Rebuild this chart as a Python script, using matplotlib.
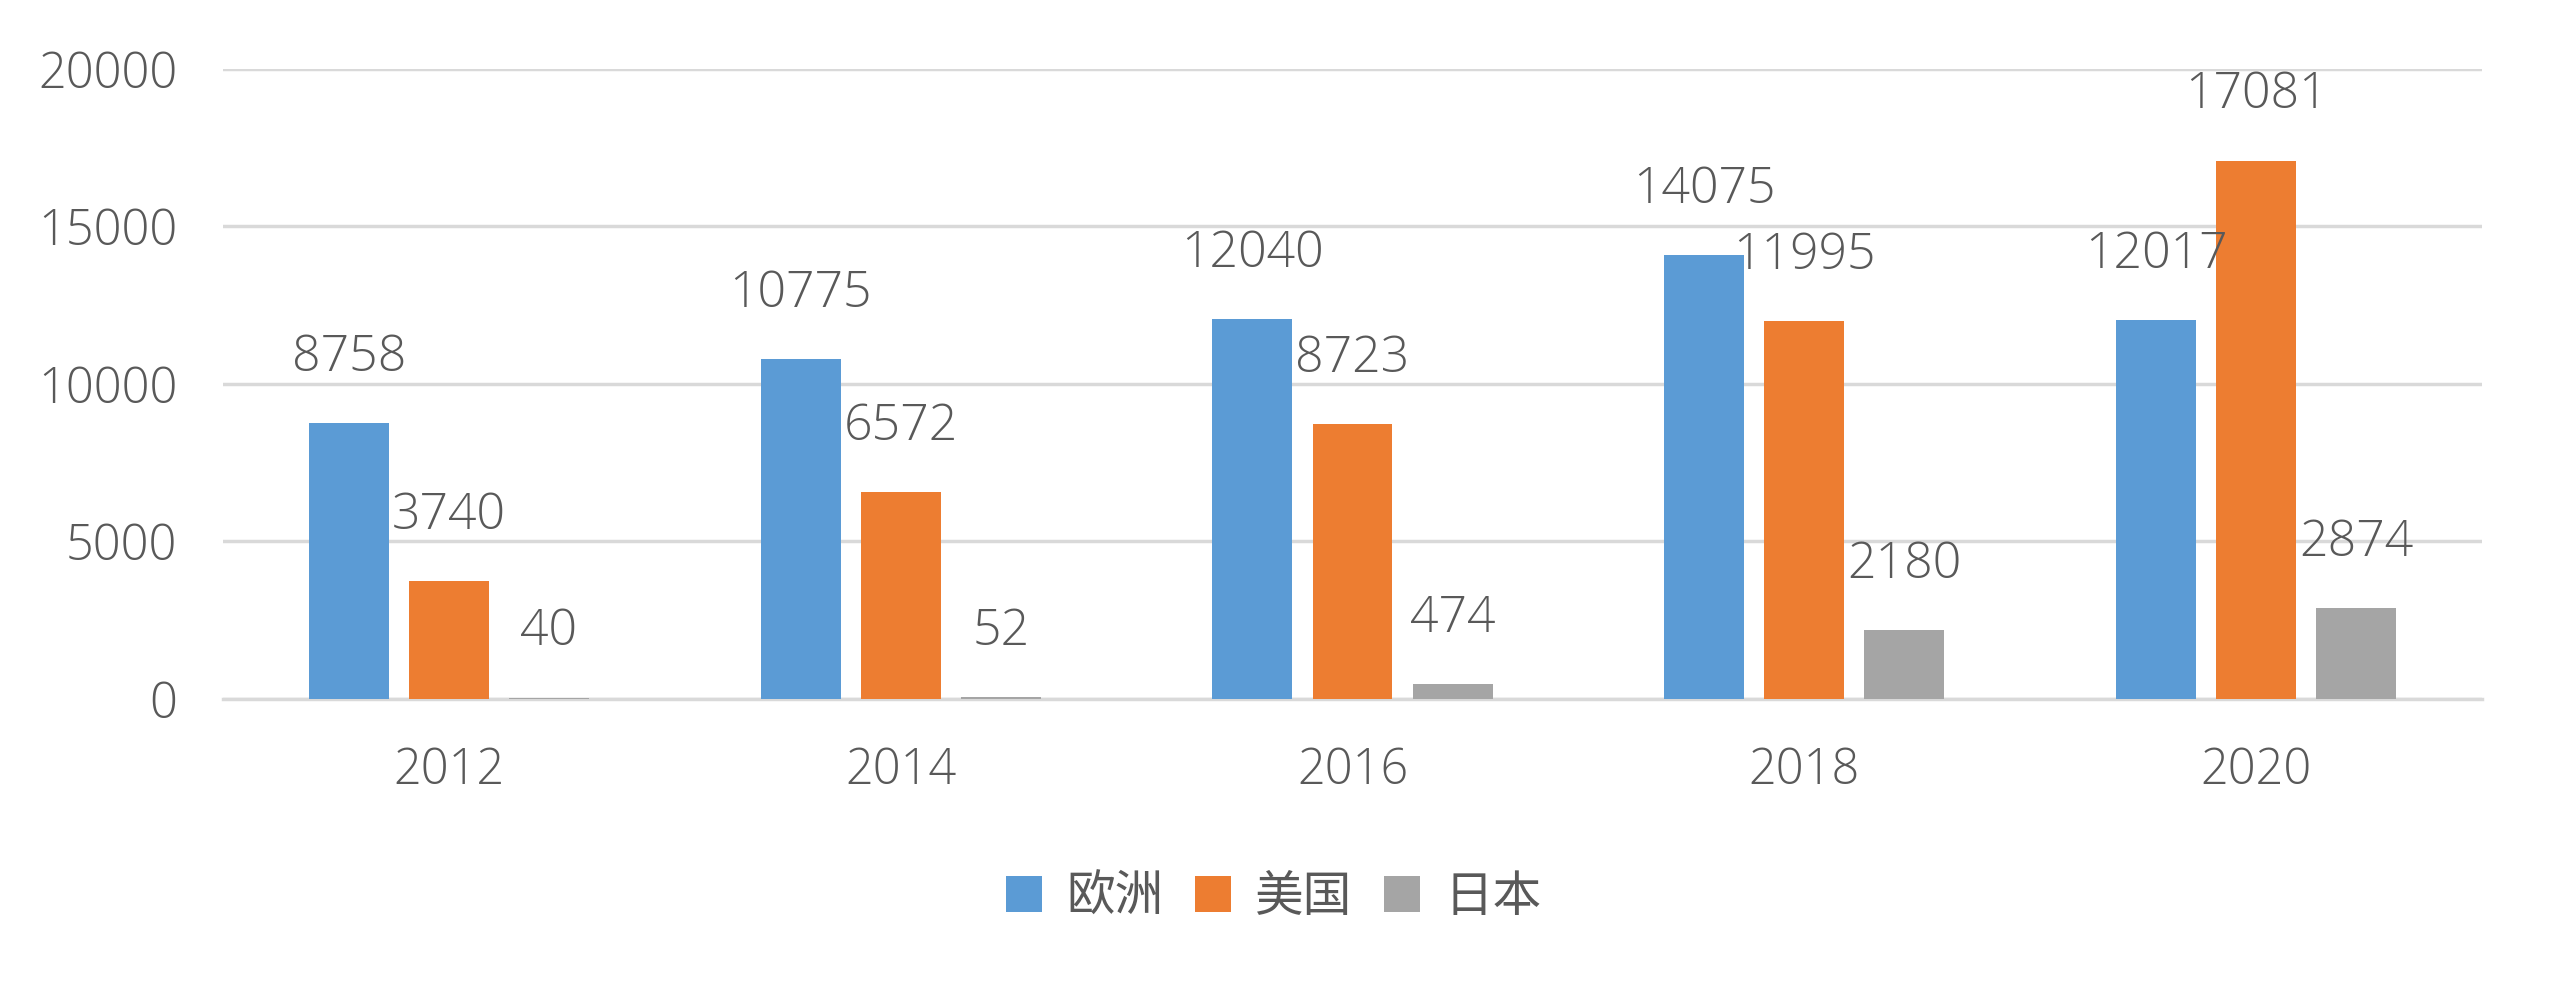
import matplotlib
matplotlib.use("Agg")
import matplotlib.pyplot as plt
import numpy as np

# data
years = ['2012', '2014', '2016', '2018', '2020']
series_names = ['欧洲', '美国', '日本']
europe = [8758, 10775, 12040, 14075, 12017]
usa = [3740, 6572, 8723, 11995, 17081]
japan = [40, 52, 474, 2180, 2874]

colors = ['#5B9BD5', '#ED7D31', '#A5A5A5']
text_color = '#595959'
grid_color = '#D9D9D9'

plt.rcParams['font.family'] = ['Open Sans', 'Noto Sans CJK SC', 'DejaVu Sans']

fig = plt.figure(figsize=(25.6, 9.94), dpi=100)
ax = fig.add_axes([223 / 2560, 1 - 699 / 994, (2482 - 223) / 2560, (699 - 68.6) / 994])

x = np.arange(len(years))
width = 0.177
offsets = [-0.2215, 0.0, 0.2215]
all_series = [europe, usa, japan]

for vals, off, col, name in zip(all_series, offsets, colors, series_names):
    bars = ax.bar(x + off, vals, width, color=col, label=name, zorder=3)
    for b, v in zip(bars, vals):
        ax.annotate(str(v), (b.get_x() + b.get_width() / 2, v),
                    xytext=(0, 47), textcoords='offset points',
                    ha='center', va='center', fontsize=36,
                    color=text_color, fontweight='light', zorder=4)

ax.set_xlim(-0.5, len(years) - 0.5)
ax.set_ylim(0, 20000)
ax.set_yticks([0, 5000, 10000, 15000, 20000])
ax.set_xticks(x)
ax.set_xticklabels(years)
ax.yaxis.grid(True, color=grid_color, linewidth=2.5, zorder=0)
ax.set_axisbelow(True)
for s in ['top', 'right', 'left']:
    ax.spines[s].set_visible(False)
ax.spines['bottom'].set_color(grid_color)
ax.spines['bottom'].set_linewidth(2.5)
ax.tick_params(axis='both', length=0, labelsize=35, labelcolor=text_color)
ax.tick_params(axis='x', pad=34)
ax.tick_params(axis='y', pad=33)
for lab in ax.get_xticklabels() + ax.get_yticklabels():
    lab.set_fontweight('light')

leg = fig.legend(loc='center', bbox_to_anchor=(0.4975, 0.0966), ncol=3,
                 frameon=False, fontsize=35, handlelength=0.74, handleheight=0.76,
                 handletextpad=0.5, columnspacing=0.65)
for t in leg.get_texts():
    t.set_color(text_color)

fig.savefig('out.png', dpi=100, facecolor='white')
